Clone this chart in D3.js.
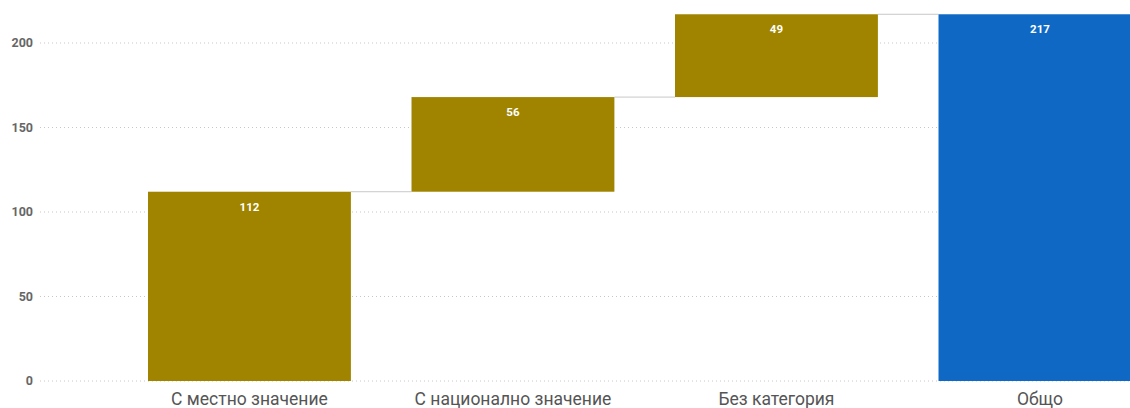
<!DOCTYPE html>
<html><head><meta charset="utf-8">
<script src="https://cdn.jsdelivr.net/npm/d3@7"></script>
<style>body{margin:0;background:#fff;}svg{display:block;}</style>
</head><body>
<svg id="c" width="1130" height="408"></svg>
<script>
const categories = ["С местно значение", "С национално значение", "Без категория", "Общо"];
const values = [112, 56, 49, 217];
const isTotal = [false, false, false, true];
const yTicks = [0, 50, 100, 150, 200];

const svg = d3.select("#c");
const x = d3.scaleBand().domain(categories).range([117.7, 1171.7]).paddingInner(0.23).paddingOuter(0.115);
const y = d3.scaleLinear().domain([0, 200]).range([381, 43]);

let run = 0;
const bars = categories.map((c, i) => {
  let start, end;
  if (isTotal[i]) { start = 0; end = values[i]; }
  else { start = run; end = run + values[i]; run = end; }
  return {c, v: values[i], start, end, total: isTotal[i]};
});

svg.append("g").selectAll("line").data(yTicks).join("line")
  .attr("x1", 40).attr("x2", 1130)
  .attr("y1", d => y(d)).attr("y2", d => y(d))
  .attr("stroke", "#c8c8c8").attr("stroke-width", 1).attr("stroke-dasharray", "1,3");

svg.append("g").selectAll("text").data(yTicks).join("text")
  .attr("x", 33).attr("y", d => y(d)).attr("dy", "0.35em")
  .attr("text-anchor", "end")
  .attr("font-family", "Roboto, 'DejaVu Sans', sans-serif")
  .attr("font-size", 12.5).attr("font-weight", 700).attr("fill", "#666")
  .text(d => d);

svg.append("g").selectAll("line").data(bars.slice(0, -1)).join("line")
  .attr("x1", (d) => x(d.c) + x.bandwidth())
  .attr("x2", (d, i) => x(bars[i + 1].c))
  .attr("y1", d => y(d.end)).attr("y2", d => y(d.end))
  .attr("stroke", "#c8c8c8").attr("stroke-width", 1);

svg.append("g").selectAll("rect").data(bars).join("rect")
  .attr("x", d => x(d.c)).attr("width", x.bandwidth())
  .attr("y", d => y(d.end)).attr("height", d => y(d.start) - y(d.end))
  .attr("fill", d => d.total ? "#0e68c4" : "#a08400");

svg.append("g").selectAll("text").data(bars).join("text")
  .attr("x", d => x(d.c) + x.bandwidth() / 2)
  .attr("y", d => y(d.end) + 19)
  .attr("text-anchor", "middle")
  .attr("font-family", "Roboto, 'DejaVu Sans', sans-serif")
  .attr("font-size", 11.5).attr("font-weight", 700).attr("fill", "#fff")
  .text(d => d.v);

svg.append("g").selectAll("text").data(bars).join("text")
  .attr("x", d => x(d.c) + x.bandwidth() / 2)
  .attr("y", 405)
  .attr("text-anchor", "middle")
  .attr("font-family", "Roboto, 'DejaVu Sans', sans-serif")
  .attr("font-size", 17.5).attr("fill", "#555")
  .text(d => d.c);
</script>
</body></html>
